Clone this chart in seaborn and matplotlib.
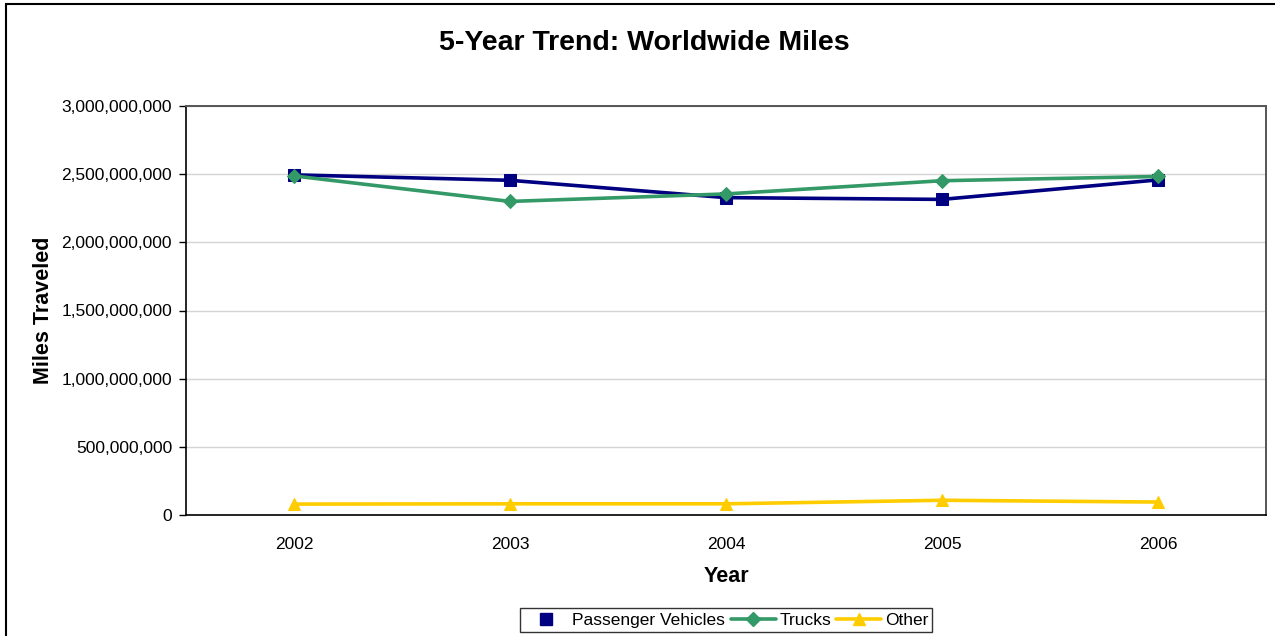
import matplotlib
matplotlib.use('Agg')
import matplotlib.pyplot as plt
import seaborn as sns
import pandas as pd
from matplotlib.lines import Line2D
from matplotlib.patches import Rectangle
from matplotlib.ticker import FuncFormatter, FixedLocator

years = ['2002', '2003', '2004', '2005', '2006']
passenger = [2495000000, 2455000000, 2328000000, 2315000000, 2458000000]
trucks = [2487000000, 2300000000, 2355000000, 2452000000, 2483000000]
other = [80000000, 82000000, 82000000, 108000000, 95000000]

series_names = ['Passenger Vehicles', 'Trucks', 'Other']
series_colors = ['#000080', '#339966', '#FFCC00']
series_markers = ['s', 'D', '^']
marker_sizes = [9, 7, 9]

sns.set_theme(style='white')
plt.rcParams['font.family'] = ['Liberation Sans', 'DejaVu Sans']
plt.rcParams['text.color'] = 'black'
plt.rcParams['axes.labelcolor'] = 'black'
plt.rcParams['xtick.color'] = 'black'
plt.rcParams['ytick.color'] = 'black'

df = pd.DataFrame({
    'year': years * 3,
    'miles': passenger + trucks + other,
    'series': [s for s in series_names for _ in years],
})

fig = plt.figure(figsize=(12.75, 6.36), dpi=100)
ax = fig.add_axes([186 / 1275, 1 - 515 / 636, (1266 - 186) / 1275, (515 - 106) / 636])

for name, color, marker, ms in zip(series_names, series_colors, series_markers, marker_sizes):
    sub = df[df['series'] == name]
    sns.lineplot(data=sub, x='year', y='miles', ax=ax, color=color, marker=marker,
                 markersize=ms, markeredgecolor=color, linewidth=2.6, legend=False,
                 zorder=3)

ax.set_xlim(-0.5, len(years) - 0.5)
ax.set_ylim(0, 3000000000)
ax.yaxis.set_major_locator(FixedLocator([i * 500000000 for i in range(7)]))
ax.yaxis.set_major_formatter(FuncFormatter(lambda v, p: f'{int(v):,}'))
ax.grid(axis='y', color='#d4d4d4', linewidth=1)
ax.grid(axis='x', visible=False)

ax.set_xticks(range(len(years)))
ax.set_xticklabels(years)
ax.set_xticks([i - 0.5 for i in range(len(years) + 1)], minor=True)
ax.tick_params(axis='x', which='major', length=0, pad=16, labelsize=12.5, colors='black')
ax.tick_params(axis='x', which='minor', length=5, width=1, color='black', direction='out')
ax.tick_params(axis='y', which='major', length=5, width=1, color='black', direction='out',
               labelsize=12.5, pad=5, left=True, labelcolor='black')

for side in ['left', 'bottom']:
    ax.spines[side].set_color('black')
    ax.spines[side].set_linewidth(1.2)
for side in ['top', 'right']:
    ax.spines[side].set_color('#555555')
    ax.spines[side].set_linewidth(1.4)
    ax.spines[side].set_visible(True)

ax.set_xlabel('Year', fontsize=15.5, fontweight='bold', labelpad=10, color='black')
ax.set_ylabel('Miles Traveled', fontsize=15.5, fontweight='bold', labelpad=5, color='black')

fig.text(644 / 1275, 1 - 43 / 636, '5-Year Trend: Worldwide Miles', ha='center', va='center',
         fontsize=20.5, fontweight='bold', color='black')

handles = [
    Line2D([], [], color=series_colors[0], marker='s', linestyle='None', markersize=9),
    Line2D([], [], color=series_colors[1], marker='D', linewidth=2.6, markersize=7),
    Line2D([], [], color=series_colors[2], marker='^', linewidth=2.6, markersize=9),
]
leg = fig.legend(handles, series_names, loc='center', bbox_to_anchor=(726 / 1275, 1 - 620 / 636),
                 ncol=3, fontsize=12.5, frameon=True, fancybox=False, edgecolor='black',
                 handlelength=2.6, handletextpad=0.2, columnspacing=0.3, borderpad=0.25,
                 borderaxespad=0)
leg.get_frame().set_linewidth(1)
for t in leg.get_texts():
    t.set_color('black')

fig.patches.append(Rectangle((6 / 1275, -0.1), 1.2, 1 - 4 / 636 + 0.1, transform=fig.transFigure,
                             fill=False, edgecolor='black', linewidth=1.5, zorder=0))

fig.savefig('out.png', dpi=100)
